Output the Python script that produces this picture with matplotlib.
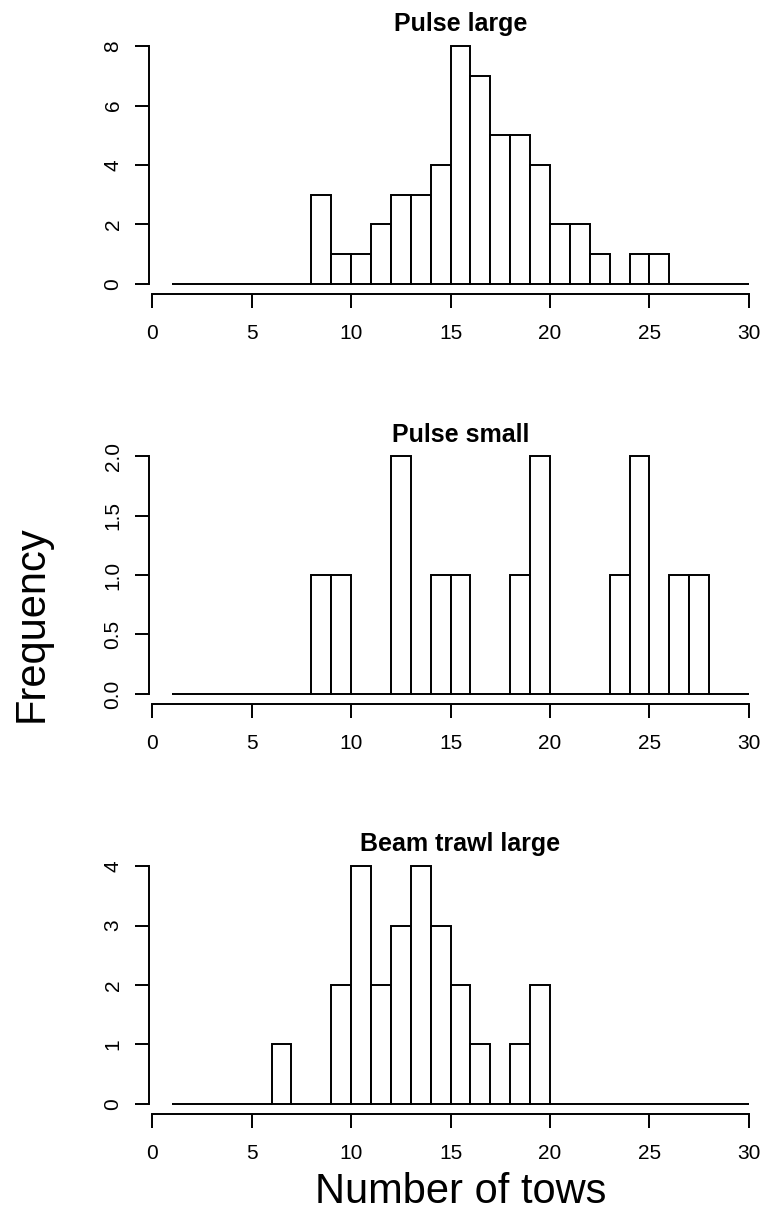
import numpy as np
import matplotlib
matplotlib.use("Agg")
import matplotlib.pyplot as plt

plt.rcParams['font.family'] = ['Liberation Sans', 'DejaVu Sans']

# histogram bins: [1,2), [2,3), ... [29,30)
bin_left = list(range(1, 30))

pulse_large = [0, 0, 0, 0, 0, 0, 0, 3, 1, 1, 2, 3, 3, 4, 8, 7, 5, 5, 4, 2,
               2, 1, 0, 1, 1, 0, 0, 0, 0]
pulse_small = [0, 0, 0, 0, 0, 0, 0, 1, 1, 0, 0, 2, 0, 1, 1, 0, 0, 1, 2, 0,
               0, 0, 1, 2, 0, 1, 1, 0, 0]
beam_large = [0, 0, 0, 0, 0, 1, 0, 0, 2, 4, 2, 3, 4, 3, 2, 1, 0, 1, 2, 0,
              0, 0, 0, 0, 0, 0, 0, 0, 0]

titles = ["Pulse large", "Pulse small", "Beam trawl large"]
series = [pulse_large, pulse_small, beam_large]
yticks = [[0, 2, 4, 6, 8],
          [0.0, 0.5, 1.0, 1.5, 2.0],
          [0, 1, 2, 3, 4]]
ytick_labels = [["0", "2", "4", "6", "8"],
                ["0.0", "0.5", "1.0", "1.5", "2.0"],
                ["0", "1", "2", "3", "4"]]
xticks = [0, 5, 10, 15, 20, 25, 30]

W, H = 764, 1216
fig = plt.figure(figsize=(W / 100, H / 100), dpi=100)

left = 149 / W
width = 623 / W
bottoms = [293.5, 703.5, 1113.5]
h = 257 / H

lw = 1.4
for i in range(3):
    ax = fig.add_axes([left, 1 - bottoms[i] / H, width, h])
    counts = series[i]
    ymax = yticks[i][-1]
    ax.bar(bin_left, counts, width=1, align='edge', facecolor='white',
           edgecolor='black', linewidth=lw)
    ax.set_xlim(-0.16, 31.16)
    ax.set_ylim(-0.04 * ymax, 1.04 * ymax)
    for s in ['top', 'right']:
        ax.spines[s].set_visible(False)
    ax.spines['left'].set_bounds(0, ymax)
    ax.spines['bottom'].set_bounds(0, 30)
    ax.spines['left'].set_linewidth(lw)
    ax.spines['bottom'].set_linewidth(lw)
    ax.set_xticks(xticks)
    ax.set_xticklabels([str(t) for t in xticks])
    ax.set_yticks(yticks[i])
    ax.set_yticklabels(ytick_labels[i], rotation=90, va='center')
    ax.tick_params(axis='both', length=10, width=lw, labelsize=15)
    ax.tick_params(axis='x', pad=12)
    ax.tick_params(axis='y', pad=9)
    ax.text(0.5, 1.0, titles[i], transform=ax.transAxes, ha='center',
            va='bottom', fontsize=18, fontweight='bold')

fig.text(32 / W, 1 - 624 / H, "Frequency", rotation=90, ha='center',
         va='center', fontsize=30)
fig.text(461 / W, 1 - 1192 / H, "Number of tows", ha='center',
         va='center', fontsize=30)

fig.savefig("out.png", dpi=100)
